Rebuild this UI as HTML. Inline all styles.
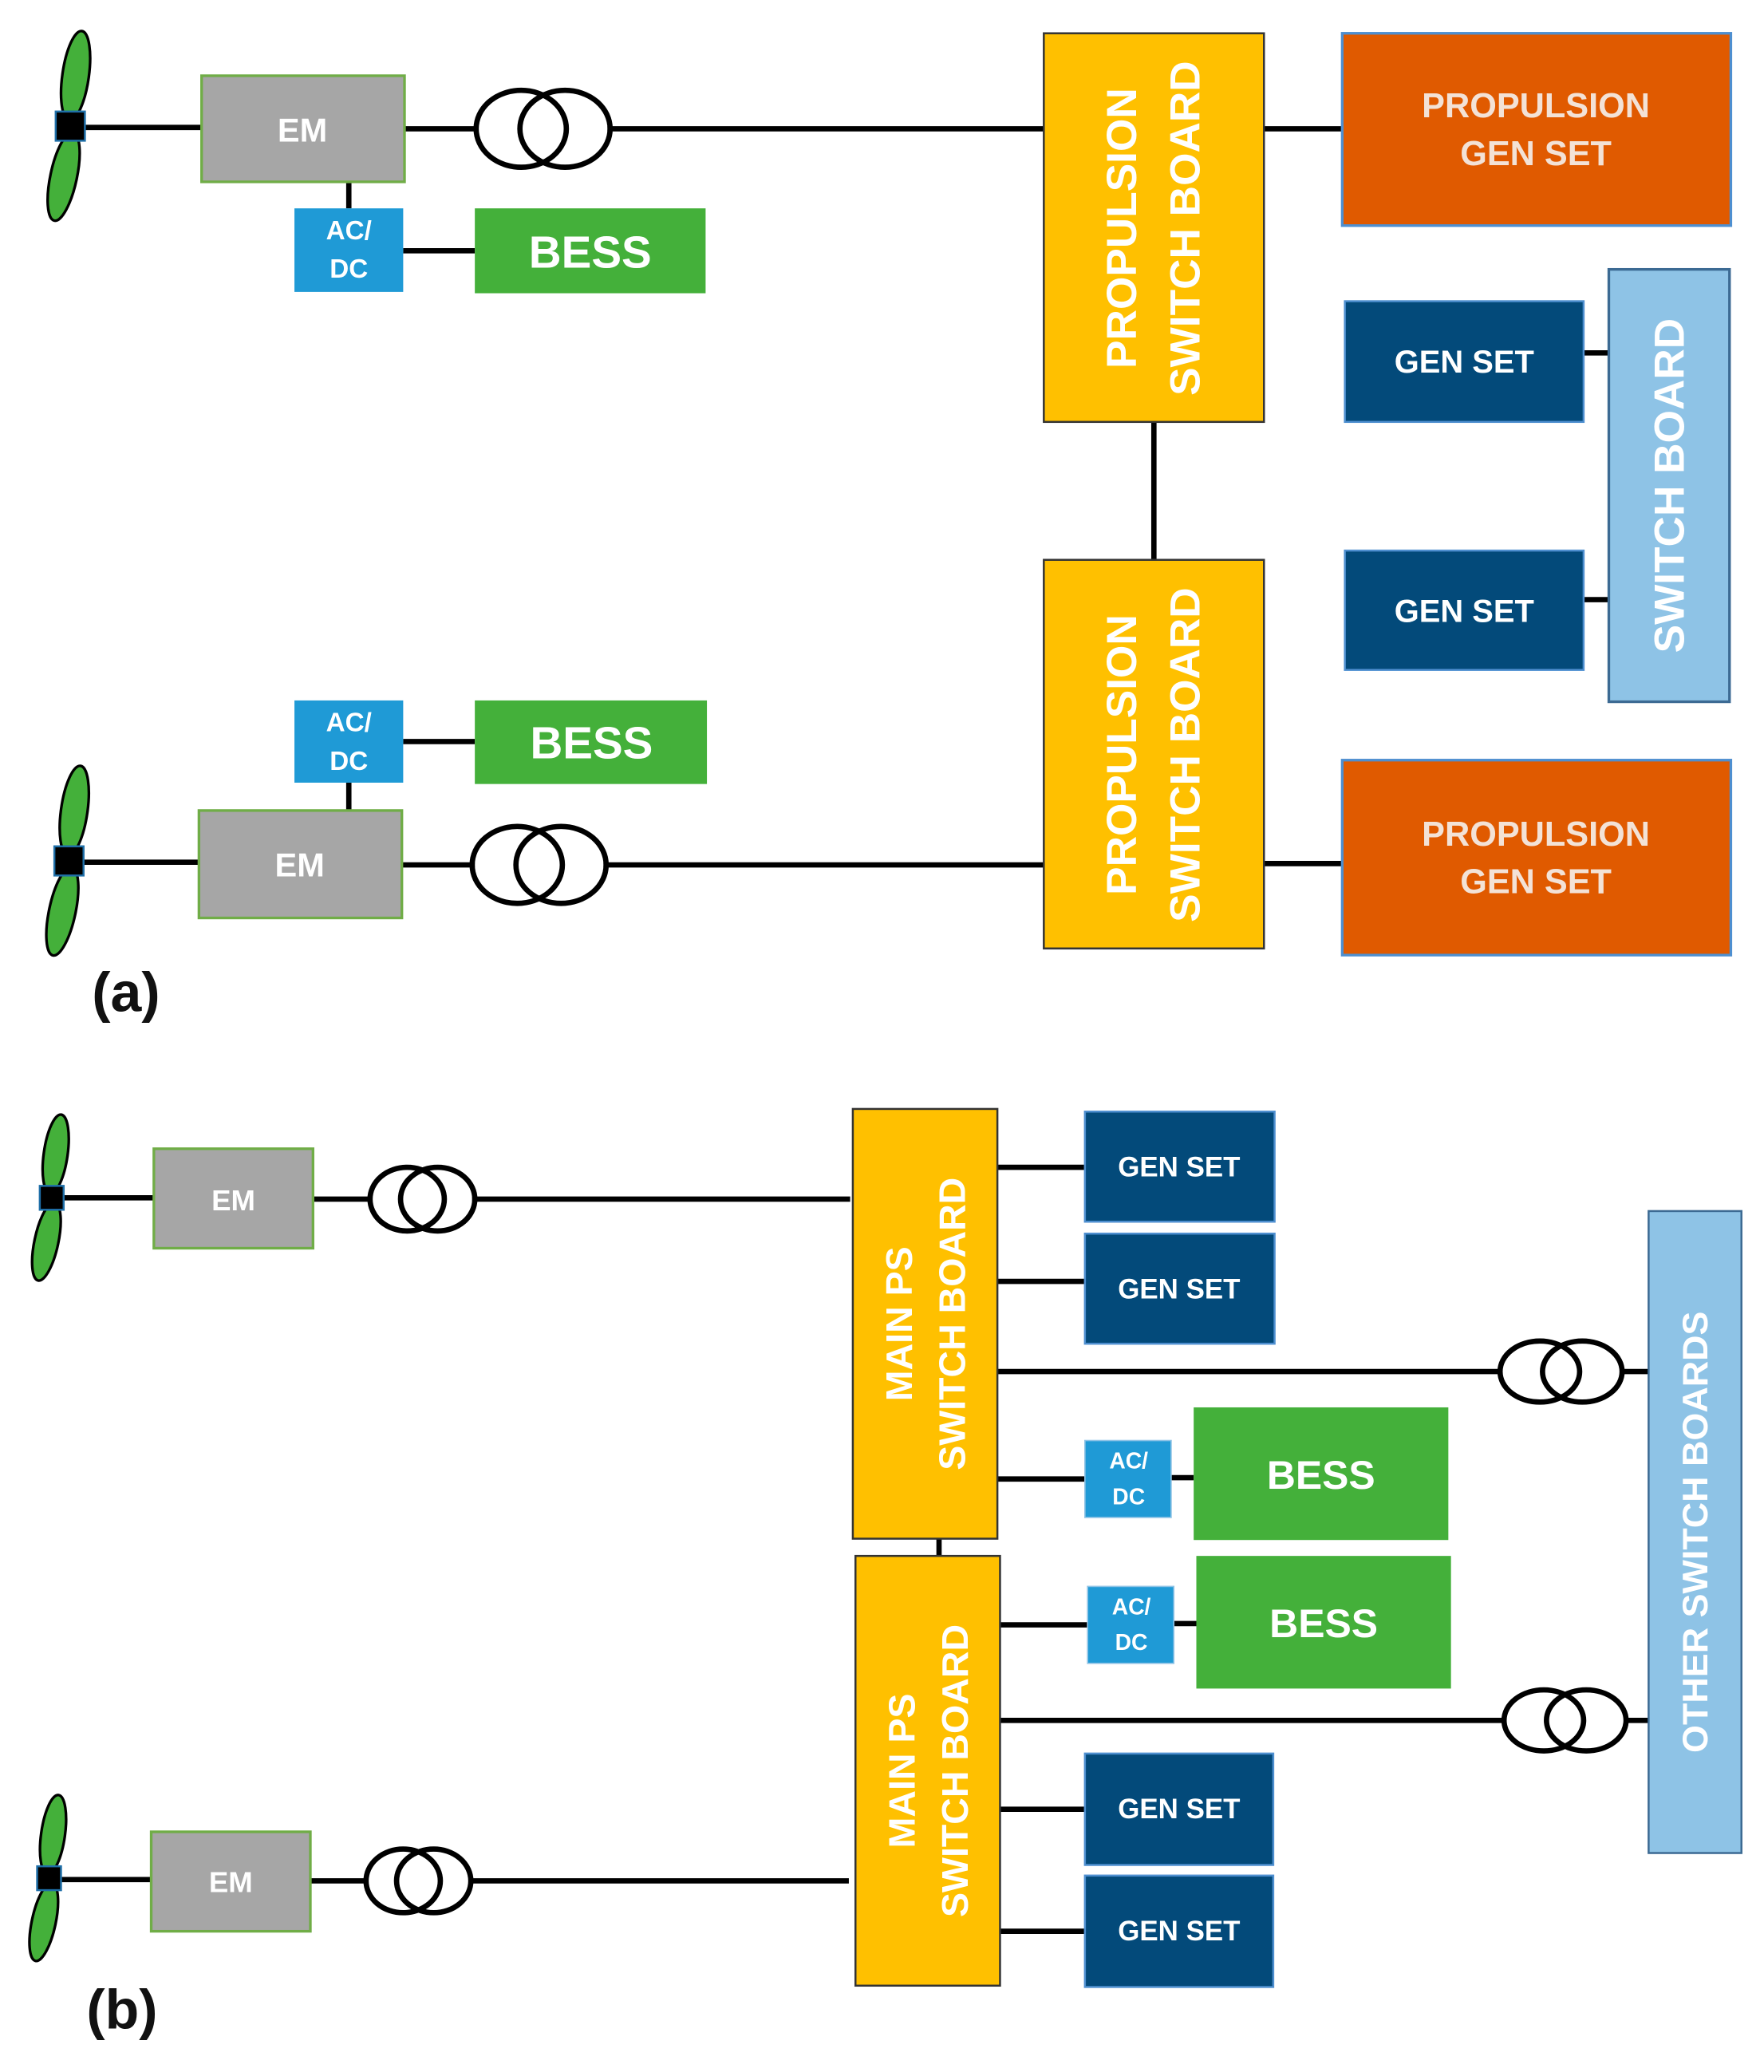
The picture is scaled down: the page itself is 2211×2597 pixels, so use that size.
<!DOCTYPE html>
<html><head><meta charset="utf-8"><style>
html,body{margin:0;padding:0;background:#fff;}
svg{display:block;}
text{font-family:"Liberation Sans",sans-serif;font-weight:bold;fill:#fff;text-anchor:middle;dominant-baseline:central;}
</style></head><body>
<svg width="2211" height="2597" viewBox="0 0 1330 1562" xmlns="http://www.w3.org/2000/svg">
<defs>
<g id="prop">
<ellipse cx="4" cy="-38" rx="10" ry="34" transform="rotate(8 4 -38)" fill="#44b03a" stroke="#000" stroke-width="2"/>
<ellipse cx="-5" cy="38" rx="10" ry="34" transform="rotate(12 -5 38)" fill="#44b03a" stroke="#000" stroke-width="2"/>
<rect x="-11" y="-11" width="22" height="22" fill="#000" stroke="#1f6fa8" stroke-width="1.5"/>
</g>
<g id="propS">
<ellipse cx="3" cy="-33" rx="9" ry="30" transform="rotate(8 3 -33)" fill="#44b03a" stroke="#000" stroke-width="2"/>
<ellipse cx="-4" cy="33" rx="9" ry="30" transform="rotate(12 -4 33)" fill="#44b03a" stroke="#000" stroke-width="2"/>
<rect x="-9" y="-9" width="18" height="18" fill="#000" stroke="#1f6fa8" stroke-width="1.5"/>
</g>
</defs>
<g stroke="#000" stroke-width="4" fill="none">
<line x1="60" y1="96" x2="152" y2="96"/>
<line x1="305" y1="97" x2="360" y2="97"/>
<line x1="458" y1="97" x2="787" y2="97"/>
<line x1="263" y1="137" x2="263" y2="157"/>
<line x1="304" y1="189" x2="358" y2="189"/>
<line x1="953" y1="97" x2="1012" y2="97"/>
<line x1="870" y1="318" x2="870" y2="422"/>
<line x1="1194" y1="266" x2="1213" y2="266"/>
<line x1="1194" y1="452" x2="1213" y2="452"/>
<line x1="60" y1="650" x2="150" y2="650"/>
<line x1="303" y1="652" x2="358" y2="652"/>
<line x1="455" y1="652" x2="787" y2="652"/>
<line x1="263" y1="590" x2="263" y2="611"/>
<line x1="304" y1="559" x2="358" y2="559"/>
<line x1="953" y1="651" x2="1012" y2="651"/>
<line x1="45" y1="903" x2="116" y2="903"/>
<line x1="236" y1="904" x2="280" y2="904"/>
<line x1="356" y1="904" x2="641" y2="904"/>
<line x1="752" y1="880" x2="818" y2="880"/>
<line x1="752" y1="966" x2="818" y2="966"/>
<line x1="752" y1="1034" x2="1131" y2="1034"/>
<line x1="1223" y1="1034" x2="1243" y2="1034"/>
<line x1="752" y1="1115" x2="818" y2="1115"/>
<line x1="883" y1="1114" x2="900" y2="1114"/>
<line x1="708" y1="1160" x2="708" y2="1173"/>
<line x1="754" y1="1225" x2="820" y2="1225"/>
<line x1="885" y1="1224" x2="902" y2="1224"/>
<line x1="754" y1="1297" x2="1134" y2="1297"/>
<line x1="1226" y1="1297" x2="1243" y2="1297"/>
<line x1="754" y1="1364" x2="818" y2="1364"/>
<line x1="754" y1="1456" x2="818" y2="1456"/>
<line x1="45" y1="1417" x2="114" y2="1417"/>
<line x1="234" y1="1418" x2="277" y2="1418"/>
<line x1="354" y1="1418" x2="640" y2="1418"/>
<ellipse cx="393" cy="97" rx="34" ry="29"/><ellipse cx="426" cy="97" rx="34" ry="29"/>
<ellipse cx="390" cy="652" rx="34" ry="29"/><ellipse cx="423" cy="652" rx="34" ry="29"/>
<ellipse cx="307" cy="904" rx="28" ry="24"/><ellipse cx="330" cy="904" rx="28" ry="24"/>
<ellipse cx="304" cy="1418" rx="28" ry="24"/><ellipse cx="327" cy="1418" rx="28" ry="24"/>
<ellipse cx="1161" cy="1034" rx="30" ry="23"/><ellipse cx="1193" cy="1034" rx="30" ry="23"/>
<ellipse cx="1164" cy="1297" rx="30" ry="23"/><ellipse cx="1196" cy="1297" rx="30" ry="23"/>
</g>
<use href="#prop" x="53" y="95"/>
<use href="#prop" x="52" y="649"/>
<use href="#propS" x="39" y="903"/>
<use href="#propS" x="37" y="1416"/>
<rect x="152" y="57" width="153" height="80" fill="#a6a6a6" stroke="#70ad47" stroke-width="2"/>
<text x="228" y="98" font-size="25">EM</text>
<rect x="222" y="157" width="82" height="63" fill="#1f9ad6"/>
<text x="263" y="174" font-size="20">AC/</text><text x="263" y="203" font-size="20">DC</text>
<rect x="358" y="157" width="174" height="64" fill="#44b03a"/>
<text x="445" y="190" font-size="34">BESS</text>
<rect x="787" y="25" width="166" height="293" fill="#ffc000" stroke="#333" stroke-width="1.5"/>
<g transform="translate(870 172) rotate(-90)"><text x="0" y="-24" font-size="32">PROPULSION</text><text x="0" y="24" font-size="32">SWITCH BOARD</text></g>
<rect x="1012" y="25" width="293" height="145" fill="#e05a00" stroke="#4e8fd0" stroke-width="2"/>
<text x="1158" y="80" font-size="26" style="fill:#f3e2d6">PROPULSION</text><text x="1158" y="116" font-size="26" style="fill:#f3e2d6">GEN SET</text>
<rect x="1014" y="227" width="180" height="91" fill="#034a7a" stroke="#4e8fd0" stroke-width="1.5"/>
<text x="1104" y="273" font-size="24">GEN SET</text>
<rect x="1014" y="415" width="180" height="90" fill="#034a7a" stroke="#4e8fd0" stroke-width="1.5"/>
<text x="1104" y="461" font-size="24">GEN SET</text>
<rect x="1213" y="203" width="91" height="326" fill="#8ec3e6" stroke="#3c6a93" stroke-width="2"/>
<text transform="translate(1259 366) rotate(-90)" font-size="32">SWITCH BOARD</text>
<rect x="787" y="422" width="166" height="293" fill="#ffc000" stroke="#333" stroke-width="1.5"/>
<g transform="translate(870 569) rotate(-90)"><text x="0" y="-24" font-size="32">PROPULSION</text><text x="0" y="24" font-size="32">SWITCH BOARD</text></g>
<rect x="222" y="528" width="82" height="62" fill="#1f9ad6"/>
<text x="263" y="545" font-size="20">AC/</text><text x="263" y="574" font-size="20">DC</text>
<rect x="358" y="528" width="175" height="63" fill="#44b03a"/>
<text x="446" y="560" font-size="34">BESS</text>
<rect x="150" y="611" width="153" height="81" fill="#a6a6a6" stroke="#70ad47" stroke-width="2"/>
<text x="226" y="652" font-size="25">EM</text>
<rect x="1012" y="573" width="293" height="147" fill="#e05a00" stroke="#4e8fd0" stroke-width="2"/>
<text x="1158" y="629" font-size="26" style="fill:#f3e2d6">PROPULSION</text><text x="1158" y="665" font-size="26" style="fill:#f3e2d6">GEN SET</text>
<text x="95" y="748" font-size="42" style="fill:#111">(a)</text>
<rect x="116" y="866" width="120" height="75" fill="#a6a6a6" stroke="#70ad47" stroke-width="2"/>
<text x="176" y="905" font-size="22">EM</text>
<rect x="114" y="1381" width="120" height="75" fill="#a6a6a6" stroke="#70ad47" stroke-width="2"/>
<text x="174" y="1419" font-size="22">EM</text>
<rect x="643" y="836" width="109" height="324" fill="#ffc000" stroke="#333" stroke-width="1.5"/>
<g transform="translate(698 998) rotate(-90)"><text x="0" y="-20" font-size="28">MAIN PS</text><text x="0" y="20" font-size="28">SWITCH BOARD</text></g>
<rect x="645" y="1173" width="109" height="324" fill="#ffc000" stroke="#333" stroke-width="1.5"/>
<g transform="translate(700 1335) rotate(-90)"><text x="0" y="-20" font-size="28">MAIN PS</text><text x="0" y="20" font-size="28">SWITCH BOARD</text></g>
<rect x="818" y="838" width="143" height="83" fill="#034a7a" stroke="#4e8fd0" stroke-width="1.5"/>
<text x="889" y="880" font-size="21">GEN SET</text>
<rect x="818" y="930" width="143" height="83" fill="#034a7a" stroke="#4e8fd0" stroke-width="1.5"/>
<text x="889" y="972" font-size="21">GEN SET</text>
<rect x="818" y="1322" width="142" height="84" fill="#034a7a" stroke="#4e8fd0" stroke-width="1.5"/>
<text x="889" y="1364" font-size="21">GEN SET</text>
<rect x="818" y="1414" width="142" height="84" fill="#034a7a" stroke="#4e8fd0" stroke-width="1.5"/>
<text x="889" y="1456" font-size="21">GEN SET</text>
<rect x="818" y="1086" width="65" height="58" fill="#1f9ad6" stroke="#8ec3e6" stroke-width="1"/>
<text x="851" y="1101" font-size="17">AC/</text><text x="851" y="1128" font-size="17">DC</text>
<rect x="820" y="1196" width="65" height="58" fill="#1f9ad6" stroke="#8ec3e6" stroke-width="1"/>
<text x="853" y="1211" font-size="17">AC/</text><text x="853" y="1238" font-size="17">DC</text>
<rect x="900" y="1061" width="192" height="100" fill="#44b03a"/>
<text x="996" y="1112" font-size="30">BESS</text>
<rect x="902" y="1173" width="192" height="100" fill="#44b03a"/>
<text x="998" y="1224" font-size="30">BESS</text>
<rect x="1243" y="913" width="70" height="484" fill="#8ec3e6" stroke="#3c6a93" stroke-width="1.5"/>
<text transform="translate(1278 1155) rotate(-90)" font-size="27">OTHER SWITCH BOARDS</text>
<text x="92" y="1515" font-size="42" style="fill:#111">(b)</text>
</svg>
</body></html>
